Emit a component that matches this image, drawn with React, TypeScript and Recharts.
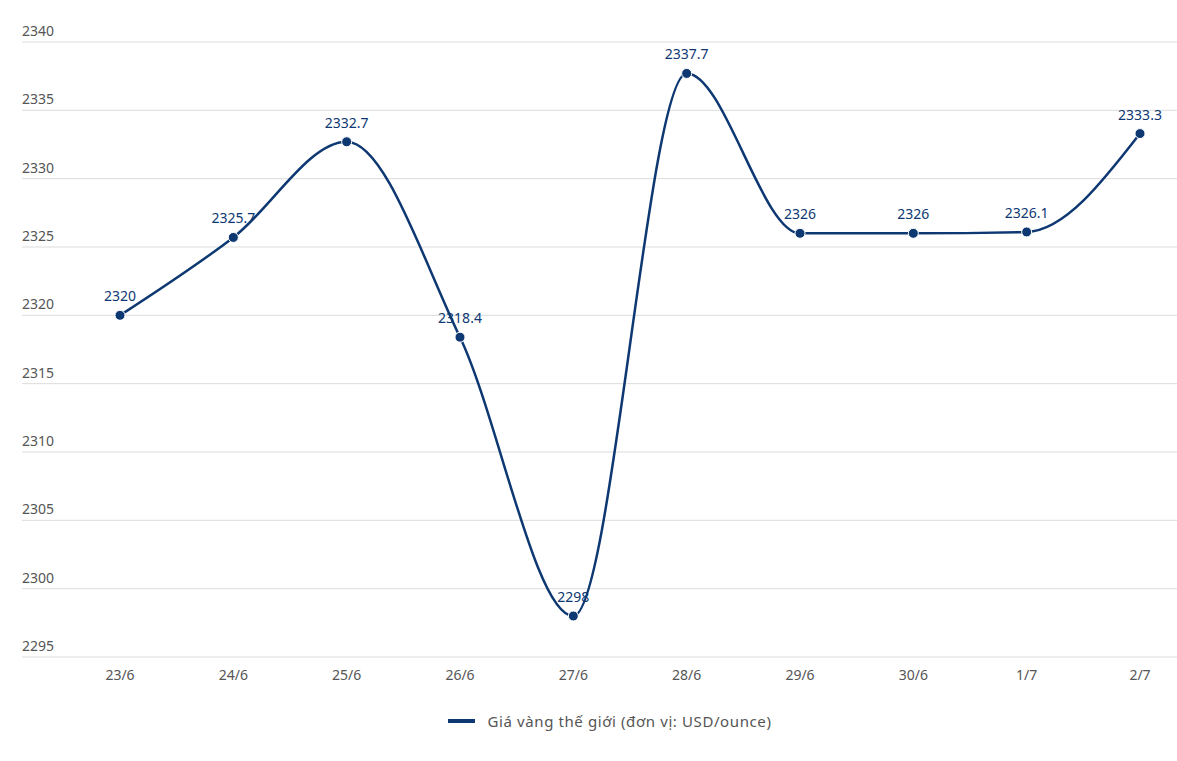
import React from "react";
import {
  LineChart,
  Line,
  XAxis,
  YAxis,
  CartesianGrid,
  Legend,
  LabelList,
} from "recharts";

const categories = ["23/6", "24/6", "25/6", "26/6", "27/6", "28/6", "29/6", "30/6", "1/7", "2/7"];
const goldPrices = [2320, 2325.7, 2332.7, 2318.4, 2298, 2337.7, 2326, 2326, 2326.1, 2333.3];
const yTicks = [2295, 2300, 2305, 2310, 2315, 2320, 2325, 2330, 2335, 2340];
const seriesName = "Giá vàng thế giới (đơn vị: USD/ounce)";

const data = categories.map((c, i) => ({ day: c, price: goldPrices[i] }));

const NAVY = "#0e3872";
const FONT = "'Noto Sans', 'Open Sans', sans-serif";
const LABEL_X = 22;

const YTick = (props: any) => {
  const { y, payload } = props;
  return (
    <text x={LABEL_X} y={y - 6} textAnchor="start" fill="#555" fontSize={14} fontFamily={FONT}>
      {payload.value}
    </text>
  );
};

const LegendContent = () => (
  <div
    style={{
      display: "flex",
      justifyContent: "center",
      alignItems: "center",
      fontFamily: FONT,
      fontSize: 15,
      color: "#555",
      paddingLeft: 42,
      letterSpacing: 0.6,
    }}
  >
    <span style={{ display: "inline-block", width: 27, height: 4, background: NAVY, marginRight: 13 }} />
    <span>{seriesName}</span>
  </div>
);

export default function App() {
  return (
    <div style={{ position: "absolute", left: 0, top: 0, background: "#fff" }}>
      <LineChart
        width={1177}
        height={761}
        data={data}
        margin={{ top: 42, right: 0, left: 0, bottom: 24 }}
      >
        <CartesianGrid horizontal vertical={false} stroke="#dcdcdc" />
        <XAxis
          dataKey="day"
          scale="point"
          padding={{ left: 98, right: 37 }}
          axisLine={false}
          tickLine={false}
          height={30}
          tick={{ fill: "#555", fontSize: 14, fontFamily: FONT }}
          tickMargin={7}
        />
        <YAxis
          domain={[2295, 2340]}
          ticks={yTicks}
          width={22}
          axisLine={false}
          tickLine={false}
          interval={0}
          tick={<YTick />}
        />
        <Legend
          verticalAlign="bottom"
          height={50}
          wrapperStyle={{ top: 711, left: 0, width: 1177 }}
          content={<LegendContent />}
        />
        <Line
          type="monotone"
          dataKey="price"
          name={seriesName}
          stroke={NAVY}
          strokeWidth={2.5}
          dot={{ r: 5, fill: NAVY, stroke: "#fff", strokeWidth: 1 }}
          isAnimationActive={false}
        >
          <LabelList
            dataKey="price"
            position="top"
            offset={14}
            fill={NAVY}
            fontSize={14}
            fontFamily={FONT}
          />
        </Line>
      </LineChart>
    </div>
  );
}
